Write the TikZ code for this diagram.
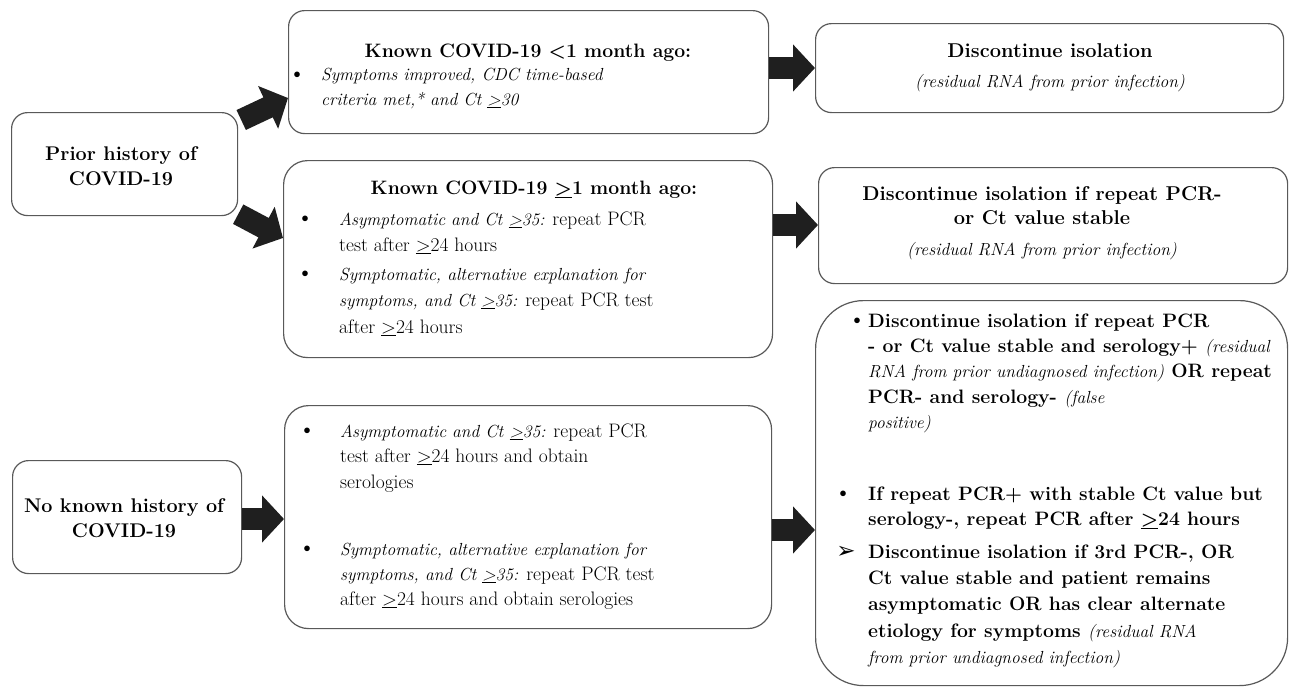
\documentclass[tikz,border=0pt]{standalone}
\usepackage{fontspec}
\newfontfamily\dejavu{DejaVu Sans}
\usetikzlibrary{arrows.meta}
\newcommand\uge{\underline{>}}
\newcommand\ital[1]{{\normalfont\fontsize{17.5}{26}\selectfont\itshape #1}}
\begin{document}
\begin{tikzpicture}[x=1pt,y=-1pt,
  box/.style={draw=black!65, line width=1.2pt, rounded corners=#1, anchor=north west, inner sep=0pt, fill=white},
  box/.default=16pt,
  txt/.style={inner sep=0pt, anchor=north west, align=left},
  ctxt/.style={inner sep=0pt, anchor=north, align=center},
  btxt/.style={inner sep=0pt, anchor=base},
  bul/.style={inner sep=0pt, anchor=base, font=\fontsize{25}{26}\selectfont},
  barrow/.style={draw=black!88, line width=22pt, -{Triangle[length=22pt,width=46pt]}},
]
\fill[white] (0,0) rectangle (1291,688);

% boxes
\node[box, minimum width=226pt, minimum height=103pt] (A) at (11,112) {};
\node[box, minimum width=229pt, minimum height=113pt] (B) at (12,460) {};
\node[box, minimum width=480pt, minimum height=123pt] (C) at (288,10) {};
\node[box=24pt, minimum width=489pt, minimum height=197pt] (D) at (283,160) {};
\node[box=24pt, minimum width=487pt, minimum height=223pt] (H) at (284,405) {};
\node[box, minimum width=468pt, minimum height=89pt] (E) at (815,23) {};
\node[box, minimum width=469pt, minimum height=116pt] (F) at (818,167) {};
\node[box=48pt, minimum width=472pt, minimum height=385pt] (G) at (815,300) {};

% arrows
\draw[barrow] ([shift={(3,8)}]A.north east) -- (C.west |- 0,98);
\draw[barrow] ([shift={(0,-2)}]A.south east) -- (D.west |- 0,238);
\draw[barrow] (B.east |- 0,519) -- (H.west |- 0,519);
\draw[barrow] (C.east |- 0,68) -- (E.west |- 0,68);
\draw[barrow] (D.east |- 0,225) -- (F.west |- 0,225);
\draw[barrow] (H.east |- 0,530) -- (G.west |- 0,530);

% left boxes
\node[ctxt, font=\fontsize{19.8}{25}\selectfont\bfseries] (tA) at (121,142.5) {\strut Prior history of\\COVID-19};
\node[ctxt, font=\fontsize{19.8}{25}\selectfont\bfseries] (tB) at (124,494.5) {\strut No known history of\\COVID-19};

% box C
\node[btxt, font=\fontsize{19.4}{26}\selectfont\bfseries] (tC) at (528,57) {Known COVID-19 <1 month ago:};
\node[bul] (bC) at (297,81) {\textbullet};
\node[txt, font=\fontsize{17.5}{25}\selectfont\itshape] (iC) at (321,63) {\strut Symptoms improved, CDC time-based\\criteria met,* and Ct \uge30};

% box D
\node[btxt, font=\fontsize{19.4}{26}\selectfont\bfseries] (tD) at (534,194) {Known COVID-19 \uge1 month ago:};
\node[bul] (bD1) at (305,225) {\textbullet};
\node[txt, font=\fontsize{19.5}{26.5}\selectfont] (iD1) at (339,206.45) {\strut\ital{Asymptomatic and Ct \uge35:} repeat PCR\\test after \uge24 hours};
\node[bul] (bD2) at (305,280) {\textbullet};
\node[txt, font=\fontsize{19.5}{26.5}\selectfont] (iD2) at (339,261.45) {\strut\ital{Symptomatic, alternative explanation for}\\\ital{symptoms, and Ct \uge35:} repeat PCR test\\after \uge24 hours};

% box H
\node[bul] (bH1) at (307,437) {\textbullet};
\node[txt, font=\fontsize{19.5}{25.5}\selectfont] (iH1) at (340,419.15) {\strut\ital{Asymptomatic and Ct \uge35:} repeat PCR\\test after \uge24 hours and obtain\\serologies};
\node[bul] (bH2) at (307,555) {\textbullet};
\node[txt, font=\fontsize{19.5}{25}\selectfont] (iH2) at (340,537.5) {\strut\ital{Symptomatic, alternative explanation for}\\\ital{symptoms, and Ct \uge35:} repeat PCR test\\after \uge24 hours and obtain serologies};

% box E, F
\node[ctxt, font=\fontsize{20}{30}\selectfont] (tE) at (1050,36) {\strut\textbf{Discontinue isolation}\\\ital{(residual RNA from prior infection)}};
\node[ctxt, font=\fontsize{20}{24}\selectfont] (tF) at (1042,183) {\strut\textbf{Discontinue isolation if repeat PCR-}\\\textbf{or Ct value stable}\\[7pt]\ital{(residual RNA from prior infection)}};

% box G
\node[bul] (bG1) at (857,327) {\textbullet};
\node[txt, font=\fontsize{19.4}{25.3}\selectfont\bfseries] (iG1) at (868,309.3) {\strut Discontinue isolation if repeat PCR\\- or Ct value stable and serology+ \ital{(residual}\\\ital{RNA from prior undiagnosed infection)} OR repeat\\PCR- and serology- \ital{(false}\\\ital{positive)}};
\node[bul] (bG2) at (843,500) {\textbullet};
\node[txt, font=\fontsize{19.4}{25}\selectfont\bfseries] (iG2) at (868,482.5) {\strut If repeat PCR+ with stable Ct value but\\serology-, repeat PCR after \uge24 hours};
\node[bul, font=\dejavu\fontsize{23}{26}\selectfont] (bG3) at (846,558) {➢};
\node[txt, font=\fontsize{19.4}{26.3}\selectfont\bfseries] (iG3) at (868,539.6) {\strut Discontinue isolation if 3rd PCR-, OR\\Ct value stable and patient remains\\asymptomatic OR has clear alternate\\etiology for symptoms \ital{(residual RNA}\\\ital{from prior undiagnosed infection)}};
\end{tikzpicture}
\end{document}
